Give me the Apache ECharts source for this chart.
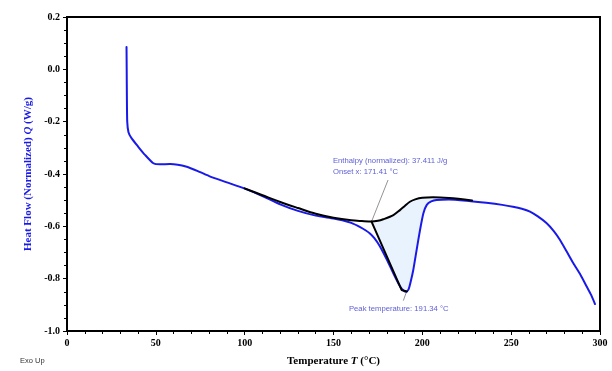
<!DOCTYPE html>
<html><head><meta charset="utf-8">
<script src="https://cdn.jsdelivr.net/npm/echarts@6/dist/echarts.min.js"></script>
<style>html,body{margin:0;padding:0;background:#fff}#c{width:612px;height:371px}</style>
</head><body><div id="c"></div>
<script>
// Measured heat-flow curve (blue)
const tempBlue = [33.5, 33.6, 33.7, 33.9, 34.6, 36.4, 40.1, 43.9, 48.6, 52.3, 58, 67.4, 75, 80, 90, 100, 110, 120, 130, 140, 150, 155, 160, 165, 168, 170.5, 173, 176, 180, 184, 187.5, 189.5, 191, 192.3, 193.5, 194.9, 196.8, 198.7, 200.6, 202.5, 205, 208, 215, 225, 236, 245, 251, 256, 260.6, 265, 270, 274, 277.5, 281, 285, 289, 292.5, 295, 297.2];
const heatFlow = [0.085, 0.0, -0.1, -0.2, -0.24, -0.264, -0.296, -0.327, -0.359, -0.363, -0.362, -0.372, -0.393, -0.408, -0.432, -0.456, -0.484, -0.516, -0.541, -0.559, -0.570, -0.577, -0.587, -0.603, -0.615, -0.627, -0.645, -0.675, -0.727, -0.784, -0.830, -0.846, -0.850, -0.840, -0.810, -0.767, -0.690, -0.614, -0.550, -0.518, -0.505, -0.499, -0.497, -0.502, -0.510, -0.518, -0.525, -0.533, -0.544, -0.562, -0.588, -0.618, -0.652, -0.693, -0.741, -0.785, -0.830, -0.862, -0.897];
// Integration baseline (black)
const baseT = [100, 110, 120, 130, 140, 150, 160, 166, 171.41, 175, 178, 183.7, 187.4, 190, 193, 196, 200, 206, 215, 228];
const baseQ = [-0.455, -0.481, -0.507, -0.530, -0.552, -0.567, -0.577, -0.580, -0.582, -0.579, -0.573, -0.557, -0.538, -0.523, -0.506, -0.497, -0.491, -0.489, -0.492, -0.501];
// Onset tangent to peak (black)
const tangentT = [171.41, 188.3, 191.3];
const tangentQ = [-0.582, -0.843, -0.849];
// Annotations
const onsetT = 171.41, onsetQ = -0.582;
const peakT = 191.34, peakQ = -0.849;
const enthalpyText = 'Enthalpy (normalized): 37.411 J/g\nOnset x: 171.41 °C';
const peakText = 'Peak temperature: 191.34 °C';
const enthalpyLabelAt = [149.7, -0.371];
const onsetLeaderFrom = [180.7, -0.423];
const peakLabelAt = [158.7, -0.916];
const peakLeaderTo = [189.3, -0.884];
const xTicks = [0, 50, 100, 150, 200, 250, 300];
const yTicks = [-1.0, -0.8, -0.6, -0.4, -0.2, 0.0, 0.2];

const blueData = tempBlue.map((t, i) => [t, heatFlow[i]]);
const baseData = baseT.map((t, i) => [t, baseQ[i]]);
const tangentData = tangentT.map((t, i) => [t, tangentQ[i]]);
// fill polygon: tangent -> blue rising part -> baseline back to onset
const joinT = 215;
const fillPoly = tangentData.concat(
  blueData.filter(p => p[0] > tangentT[tangentT.length - 1] && p[0] <= joinT),
  baseData.filter(p => p[0] >= onsetT && p[0] <= joinT).reverse()
);

const BLUE = '#1a1ae8';
const serif = '"Liberation Serif", "Times New Roman", serif';
const sans = '"Liberation Sans", Arial, sans-serif';
const chart = echarts.init(document.getElementById('c'), null, {renderer: 'canvas'});
chart.setOption({
  animation: false,
  backgroundColor: '#fff',
  grid: {left: 67, right: 12, top: 17, bottom: 40, containLabel: false, outerBoundsMode: 'none',
         show: true, borderColor: '#000', borderWidth: 2},
  xAxis: {
    type: 'value', min: xTicks[0], max: xTicks[xTicks.length - 1], interval: 50,
    name: '{b|Temperature }{i|T}{b| (°C)}', nameLocation: 'middle', nameGap: 25,
    nameTextStyle: {rich: {
      b: {fontFamily: serif, fontWeight: 'bold', fontSize: 11, color: '#000'},
      i: {fontFamily: serif, fontWeight: 'bold', fontStyle: 'italic', fontSize: 11, color: '#000'}}},
    axisLine: {onZero: false, lineStyle: {color: '#000', width: 2}},
    axisTick: {inside: false, length: 4, lineStyle: {color: '#000'}},
    minorTick: {show: true, splitNumber: 5, length: 3, lineStyle: {color: '#000'}},
    splitLine: {show: false},
    axisLabel: {fontFamily: serif, fontWeight: 'bold', fontSize: 10, color: '#000', margin: 7}
  },
  yAxis: {
    type: 'value', min: yTicks[0], max: yTicks[yTicks.length - 1], interval: 0.2,
    name: '{b|Heat Flow (Normalized) }{i|Q}{b| (W/g)}', nameLocation: 'middle', nameGap: 31,
    nameTextStyle: {rich: {
      b: {fontFamily: serif, fontWeight: 'bold', fontSize: 11, color: BLUE},
      i: {fontFamily: serif, fontWeight: 'bold', fontStyle: 'italic', fontSize: 11, color: BLUE}}},
    axisLine: {onZero: false, lineStyle: {color: '#000', width: 2}},
    axisTick: {inside: false, length: 4, lineStyle: {color: '#000'}},
    minorTick: {show: true, splitNumber: 4, length: 3, lineStyle: {color: '#000'}},
    splitLine: {show: false},
    axisLabel: {fontFamily: serif, fontWeight: 'bold', fontSize: 10, color: '#000', margin: 7,
      formatter: v => (Math.abs(v) < 1e-9 ? 0 : v).toFixed(1)}
  },
  graphic: [{type: 'text', left: 20, top: 357,
    style: {text: 'Exo Up', font: '7.5px ' + sans, fill: '#333'}}],
  series: [
    {type: 'custom', z: 1, silent: true, data: [0],
     renderItem: (params, api) => ({
       type: 'polygon',
       shape: {points: fillPoly.map(p => api.coord(p))},
       style: {fill: '#e9f3fd', stroke: null}
     })},
    {type: 'line', z: 3, data: blueData, showSymbol: false, smooth: 0.2,
     lineStyle: {color: BLUE, width: 2, join: 'round', cap: 'round'}},
    {type: 'line', z: 4, data: baseData, showSymbol: false, smooth: 0.3,
     lineStyle: {color: '#000', width: 2, join: 'round', cap: 'round'}},
    {type: 'line', z: 4, data: tangentData, showSymbol: false,
     lineStyle: {color: '#000', width: 2, join: 'round', cap: 'round'}},
    {type: 'line', z: 2, data: [onsetLeaderFrom, [onsetT, onsetQ]], showSymbol: false,
     lineStyle: {color: '#777', width: 0.8}},
    {type: 'line', z: 2, data: [[peakT - 0.3, peakQ - 0.002], peakLeaderTo], showSymbol: false,
     lineStyle: {color: '#777', width: 0.8}},
    {type: 'scatter', z: 5, symbolSize: 0, silent: true,
     data: [
       {value: enthalpyLabelAt, label: {formatter: enthalpyText}},
       {value: peakLabelAt, label: {formatter: peakText}}
     ],
     label: {show: true, position: 'right', distance: 0, align: 'left',
       fontFamily: sans, fontSize: 7.7, lineHeight: 11, color: '#3333cc'}}
  ]
});
</script></body></html>
